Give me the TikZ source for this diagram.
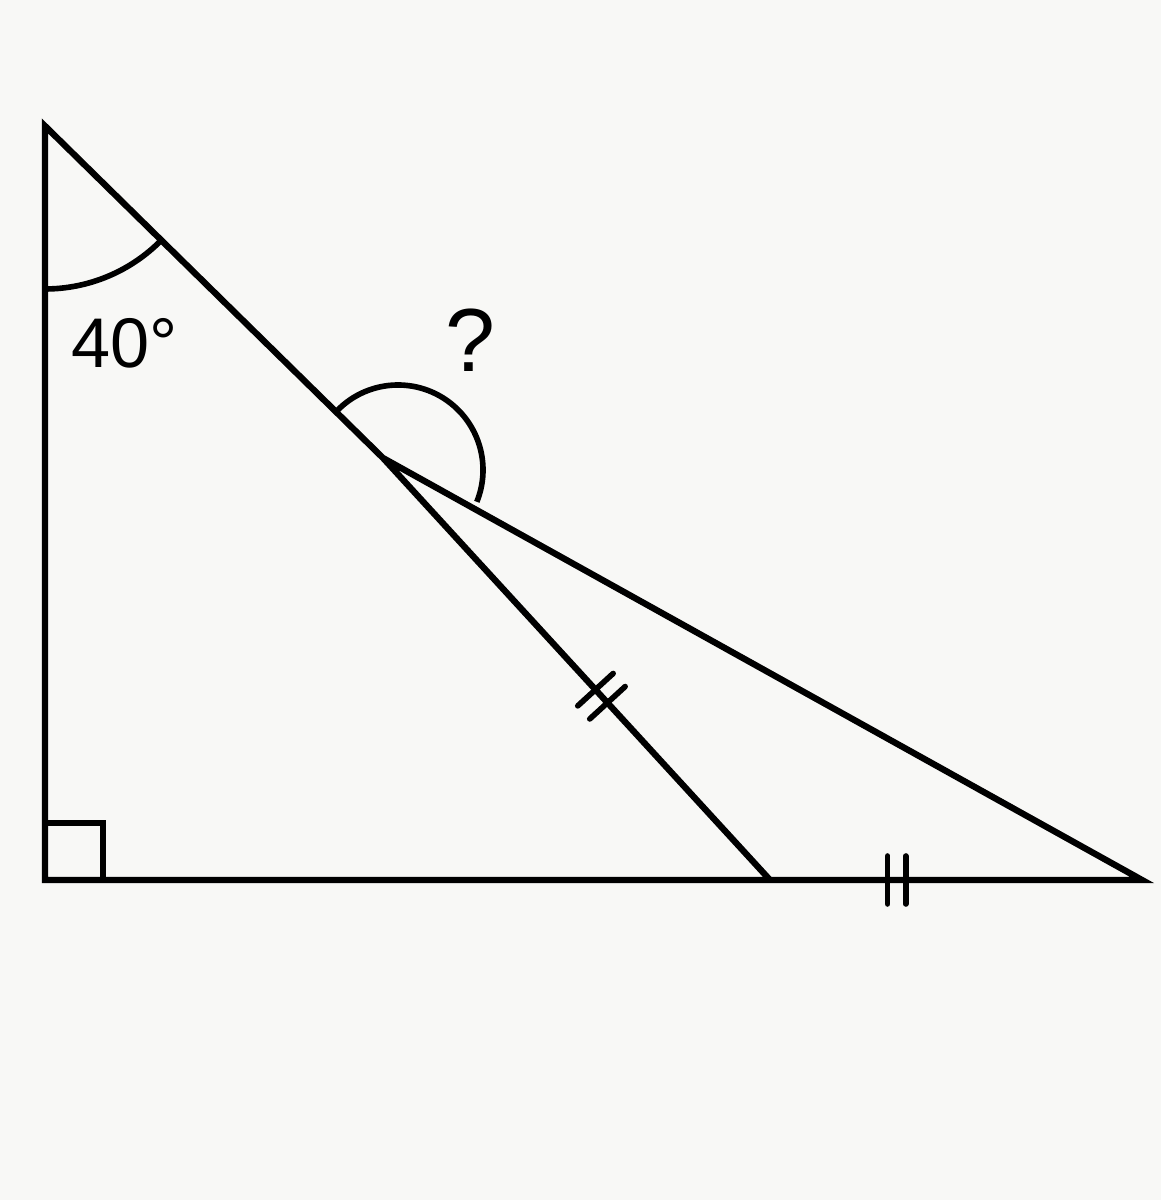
\documentclass[tikz,border=0pt]{standalone}
\usepackage{fontspec}
\setmainfont{Liberation Sans}
\usepackage{tikz}
\definecolor{fond}{RGB}{248,248,246}

\begin{document}
\begin{tikzpicture}
\tikzstyle{cote}=[line width=3.6pt,line join=miter]
\tikzstyle{arcangle}=[line width=3.2pt]
\tikzstyle{trait}=[line width=3.2pt,line cap=round]
\tikzstyle{mesure}=[inner sep=0pt,font=\fontsize{40}{48}\selectfont]
\fill[fond] (0,0) rectangle (23.22,24);
\useasboundingbox (0,0) rectangle (23.22,24);
\coordinate (A) at (0.9,21.48);
\coordinate (C) at (0.9,6.4);
\coordinate (B) at (22.84,6.4);
\coordinate (E) at (7.66,14.84);
\coordinate (F) at (15.4,6.4);
\coordinate (O) at (7.96,14.6);
%triangle
\draw[cote] (F)--(E)--(A)--(C)--(B)--(E);
\draw[cote] (C) ++(0,1.14) -- ++(1.16,0) -- ++(0,-1.14);
%angles
\draw[arcangle] (A) ++(270:3.26) arc[start angle=270,end angle=315.5,radius=3.26];
\draw[arcangle] (O) ++(136:1.7) arc[start angle=136,end angle=-22,radius=1.7];
\node[mesure,anchor=base west] (quarante) at (1.42,16.64) {40°};
\node[mesure,anchor=base,font=\fontsize{51}{60}\selectfont] (inconnu) at (9.4,16.56) {?};
%codage
\path (E)--(F) coordinate[pos=0.549] (m1) coordinate[pos=0.580] (m2);
\path (F)--(B) coordinate[pos=0.316] (m3) coordinate[pos=0.365] (m4);
\draw[trait] (m1) ++(-0.354,-0.324) -- ++(0.708,0.648);
\draw[trait] (m2) ++(-0.354,-0.324) -- ++(0.708,0.648);
\draw[trait] (m3) ++(0,-0.48) -- ++(0,0.96);
\draw[trait] (m4) ++(0,-0.48) -- ++(0,0.96);
\end{tikzpicture}
\end{document}
